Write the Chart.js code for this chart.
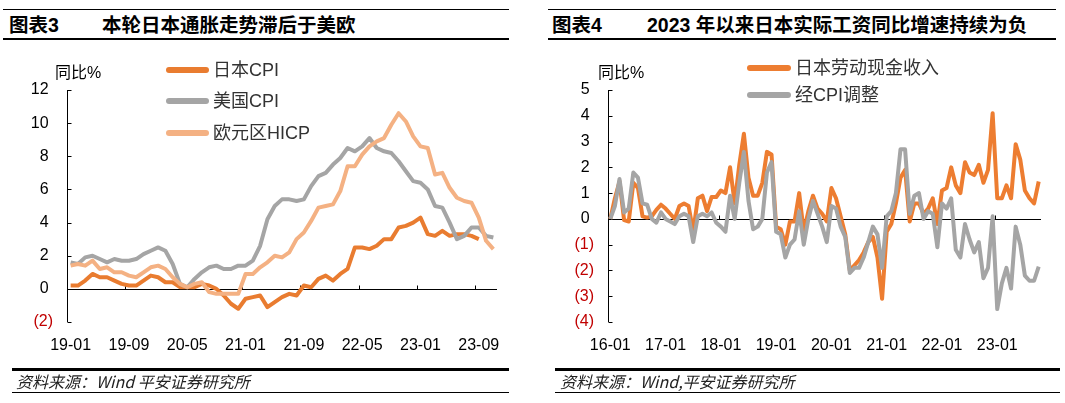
<!DOCTYPE html>
<html><head><meta charset="utf-8">
<script src="https://cdn.jsdelivr.net/npm/chart.js@4.4.0/dist/chart.umd.min.js"></script>
<style>
html,body{margin:0;padding:0;background:#fff;width:1065px;height:403px;overflow:hidden;}
body{position:relative;font-family:"Liberation Sans","Noto Sans CJK SC",sans-serif;color:#000;}
.abs{position:absolute;white-space:nowrap;}
.hl{position:absolute;background:#000;}
.title{font-family:"Liberation Sans","Noto Sans CJK SC",sans-serif;font-weight:bold;font-size:19.5px;line-height:20px;}
.foot{font-family:"Noto Sans CJK SC","Liberation Sans",sans-serif;font-style:italic;font-size:16px;line-height:16px;color:#222;}
.leg{font-family:"Liberation Sans","Noto Sans CJK SC",sans-serif;font-size:18px;line-height:18px;color:#333;}
.legline{position:absolute;height:6px;border-radius:3px;}
.unit{font-family:"Liberation Sans","Noto Sans CJK SC",sans-serif;font-size:16px;line-height:16px;}
canvas{position:absolute;top:0;}
</style></head>
<body>
<!-- Left header -->
<div class="hl" style="left:3px;top:9px;width:506px;height:1px"></div>
<div class="hl" style="left:3px;top:38px;width:506px;height:2px"></div>
<div class="abs title" style="left:9px;top:15px">图表3</div>
<div class="abs title" style="left:102px;top:15px">本轮日本通胀走势滞后于美欧</div>
<!-- Right header -->
<div class="hl" style="left:548px;top:9px;width:508px;height:1px"></div>
<div class="hl" style="left:548px;top:38px;width:508px;height:2px"></div>
<div class="abs title" style="left:552px;top:15px">图表4</div>
<div class="abs title" style="left:647px;top:15px">2023 年以来日本实际工资同比增速持续为负</div>

<canvas id="c1" width="530" height="403" style="left:0"></canvas>
<canvas id="c2" width="530" height="403" style="left:535px"></canvas>

<!-- units -->
<div class="abs unit" style="left:55px;top:65px">同比%</div>
<div class="abs unit" style="left:598px;top:65px">同比%</div>

<!-- legends left -->
<div class="legline" style="left:166px;top:67px;width:43px;background:#E97C30"></div>
<div class="abs leg" style="left:213px;top:61px">日本CPI</div>
<div class="legline" style="left:166px;top:98px;width:43px;background:#A5A5A5"></div>
<div class="abs leg" style="left:213px;top:92px">美国CPI</div>
<div class="legline" style="left:166px;top:130px;width:43px;background:#F4B183"></div>
<div class="abs leg" style="left:213px;top:124px">欧元区HICP</div>
<!-- legends right -->
<div class="legline" style="left:747px;top:65px;width:44px;background:#ED7D31"></div>
<div class="abs leg" style="left:795px;top:59px">日本劳动现金收入</div>
<div class="legline" style="left:747px;top:92px;width:44px;background:#A5A5A5"></div>
<div class="abs leg" style="left:795px;top:86px">经CPI调整</div>

<!-- footers -->
<div class="hl" style="left:12px;top:368px;width:497px;height:3px"></div>
<div class="hl" style="left:12px;top:392px;width:497px;height:1px"></div>
<div class="abs foot" style="left:16px;top:373px">资料来源：Wind 平安证券研究所</div>
<div class="hl" style="left:555px;top:368px;width:505px;height:3px"></div>
<div class="hl" style="left:555px;top:392px;width:505px;height:1px"></div>
<div class="abs foot" style="left:560px;top:373px">资料来源：Wind,平安证券研究所</div>

<script>
// ===== Chart 3 data: 2019-01 .. 2023-11 =====
const months3 = [];
for (let yy = 19; yy <= 23; yy++) for (let m = 1; m <= 12; m++) {
  if (yy === 23 && m > 11) break;
  months3.push(yy + '-' + String(m).padStart(2, '0'));
}
const japanCPI = [
  0.2,0.2,0.5,0.9,0.7,0.7,0.5,0.3,0.2,0.2,0.5,0.8,
  0.7,0.4,0.4,0.1,0.1,0.1,0.3,0.2,0.0,-0.4,-0.9,-1.2,
  -0.6,-0.5,-0.4,-1.1,-0.8,-0.5,-0.3,-0.4,0.2,0.1,0.6,0.8,
  0.5,0.9,1.2,2.5,2.5,2.4,2.6,3.0,3.0,3.7,3.8,4.0,
  4.3,3.3,3.2,3.5,3.2,3.3,3.3,3.2,3.0,null,null];
const usCPI = [
  1.6,1.5,1.9,2.0,1.8,1.6,1.8,1.7,1.7,1.8,2.1,2.3,
  2.5,2.3,1.5,0.3,0.1,0.6,1.0,1.3,1.4,1.2,1.2,1.4,
  1.4,1.7,2.6,4.2,5.0,5.4,5.4,5.3,5.4,6.2,6.8,7.0,
  7.5,7.9,8.5,8.3,8.6,9.1,8.5,8.3,8.2,7.7,7.1,6.5,
  6.4,6.0,5.0,4.9,4.0,3.0,3.2,3.7,3.7,3.2,3.1];
const euroHICP = [
  1.4,1.5,1.4,1.7,1.2,1.3,1.0,1.0,0.8,0.7,1.0,1.3,
  1.4,1.2,0.7,0.3,0.1,0.3,0.4,-0.2,-0.3,-0.3,-0.3,-0.3,
  0.9,0.9,1.3,1.6,2.0,1.9,2.2,3.0,3.4,4.1,4.9,5.0,
  5.1,5.9,7.4,7.4,8.1,8.6,8.9,9.1,9.9,10.6,10.1,9.2,
  8.6,8.5,6.9,7.0,6.1,5.5,5.3,5.2,4.3,2.9,2.4];
const yTicks3 = {min:-2, max:12, step:2};

// ===== Chart 4 data: 2016-01 .. 2023-10 =====
const months4 = [];
for (let yy = 16; yy <= 23; yy++) for (let m = 1; m <= 12; m++) {
  if (yy === 23 && m > 10) break;
  months4.push(yy + '-' + String(m).padStart(2, '0'));
}
const nominalWage = [
  0.0,0.8,1.45,-0.05,-0.1,1.4,1.2,0.1,0.05,0.1,0.35,0.55,
  0.4,0.2,0.0,0.5,0.6,0.5,-0.5,0.8,0.9,0.3,0.85,0.85,
  1.1,1.0,2.0,0.6,2.1,3.3,1.6,0.9,0.9,1.4,2.6,2.5,
  -0.3,-0.4,-1.0,-0.1,-0.1,1.0,-0.5,0.3,0.9,0.4,0.2,-0.1,
  1.2,0.8,0.1,-0.6,-2.0,-1.8,-1.6,-1.3,-0.9,-0.7,-1.5,-3.1,
  -0.5,-0.2,0.6,1.6,1.9,-0.1,0.6,0.6,0.2,0.4,0.8,-0.2,
  1.1,1.2,2.0,1.3,1.0,2.2,1.8,1.7,2.1,1.4,1.9,4.1,
  0.8,0.8,1.3,0.8,2.9,2.3,1.1,0.8,0.6,1.45];
const realWage = [
  0.0,0.5,1.55,0.25,0.4,1.8,1.6,0.6,0.55,0.0,-0.15,0.25,
  0.0,-0.1,-0.2,0.1,0.2,0.1,-0.9,0.1,0.2,0.1,0.25,-0.15,
  -0.3,-0.5,0.9,0.0,1.4,2.6,0.7,-0.4,-0.3,0.0,1.8,2.2,
  -0.5,-0.6,-1.5,-1.0,-0.8,0.3,-1.0,0.0,0.7,0.2,-0.3,-0.9,
  0.5,0.4,-0.3,-0.7,-2.1,-1.9,-1.9,-1.5,-0.9,-0.3,-0.6,-1.9,
  0.1,0.3,1.0,2.7,2.7,0.2,0.9,1.0,0.0,0.3,0.2,-1.1,
  0.6,0.4,0.8,-1.2,-1.5,-0.2,-0.8,-1.3,-0.9,-2.3,-1.9,0.1,
  -3.5,-2.5,-1.9,-2.7,-0.3,-1.0,-2.2,-2.4,-2.4,-1.85];
const yTicks4 = {min:-4, max:5, step:1};

const FONT = {family:'"Liberation Sans", Arial, sans-serif', size:16};

const axisPlugin = {
  id: 'axisDraw',
  beforeDatasetsDraw(chart, args, opts) {
    const {ctx, chartArea, scales} = chart;
    const x = scales.x, y = scales.y;
    ctx.save();
    ctx.strokeStyle = '#000';
    ctx.lineWidth = 1;
    ctx.beginPath();
    const ax = Math.round(chartArea.left) + 0.5;
    ctx.moveTo(ax, chartArea.top);
    ctx.lineTo(ax, chartArea.bottom);
    y.ticks.forEach(t => {
      const py = Math.round(y.getPixelForValue(t.value)) + 0.5;
      ctx.moveTo(ax, py); ctx.lineTo(ax + 4, py);
    });
    const zy = Math.round(y.getPixelForValue(0)) + 0.5;
    ctx.moveTo(chartArea.left, zy); ctx.lineTo(chartArea.right, zy);
    const n = chart.data.labels.length;
    for (let i = opts.every; i < n; i += opts.every) {
      const px = Math.round((x.getPixelForValue(i - 1) + x.getPixelForValue(i)) / 2) + 0.5;
      ctx.moveTo(px, zy); ctx.lineTo(px, zy - 4);
    }
    ctx.stroke();
    ctx.restore();
  }
};

function makeChart(id, labels, datasets, yt, every, yWidth, padRight, xPad) {
  return new Chart(document.getElementById(id), {
    type: 'line',
    data: {labels, datasets: datasets.map(d => ({
      data: d.data, borderColor: d.color, borderWidth: 4, pointRadius: 0,
      tension: 0, fill: false, spanGaps: false, borderJoinStyle: 'round', borderCapStyle: 'butt'
    }))},
    options: {
      responsive: false, animation: false, devicePixelRatio: 1,
      layout: {padding: {left: 0, right: padRight, top: 90, bottom: 50}},
      plugins: {legend: {display: false}, tooltip: {enabled: false}, axisDraw: {every}},
      scales: {
        x: {
          type: 'category', offset: true,
          grid: {display: false, drawTicks: false}, border: {display: false},
          ticks: {autoSkip: false, maxRotation: 0, minRotation: 0, padding: xPad, color: '#000', font: FONT,
            callback: (v, i) => (i % every === 0 ? labels[i] : '')},
          afterFit: s => { s.height = 31; }
        },
        y: {
          min: yt.min, max: yt.max,
          grid: {display: false, drawTicks: false}, border: {display: false},
          ticks: {stepSize: yt.step, padding: 14, font: FONT,
            color: c => (c.tick && c.tick.value < 0 ? '#C00000' : '#000'),
            callback: v => (v < 0 ? '(' + Math.abs(v) + ')' : v + ' ')},
          afterFit: s => { s.width = yWidth; }
        }
      }
    },
    plugins: [axisPlugin]
  });
}

makeChart('c1', months3, [
  {data: euroHICP, color: '#F4B183'},
  {data: usCPI, color: '#A5A5A5'},
  {data: japanCPI, color: '#E97C30'}
], yTicks3, 8, 67, 33, 14);

makeChart('c2', months4, [
  {data: realWage, color: '#A5A5A5'},
  {data: nominalWage, color: '#ED7D31'}
], yTicks4, 12, 73, 24, 14);
</script>
</body></html>
